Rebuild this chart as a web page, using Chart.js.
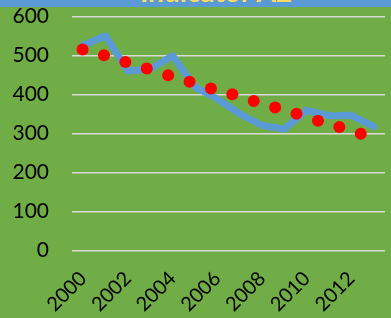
<!DOCTYPE html>
<html>
<head>
<meta charset="utf-8">
<script src="https://cdn.jsdelivr.net/npm/chart.js@4/dist/chart.umd.min.js"></script>
<style>
  html, body { margin: 0; padding: 0; background: #70AD47; overflow: hidden; }
  #wrap { position: relative; width: 391px; height: 318px; overflow: hidden; background: #70AD47; }
  #titlebar { position: absolute; left: 0; top: 0; width: 391px; height: 7px; background: #5B9BD5; overflow: hidden; z-index: 2; }
  #title { position: absolute; left: 0; top: -21px; width: 432px; text-align: center; font: bold 28px Lato, sans-serif; line-height: 24px; color: #FFD966; white-space: nowrap; }
  canvas { position: absolute; left: 0; top: 0; }
</style>
</head>
<body>
<div id="wrap">
  <div id="titlebar"><div id="title">Indicator A2</div></div>
  <canvas id="c" width="391" height="318"></canvas>
</div>
<script>
const years = ['2000','2001','2002','2003','2004','2005','2006','2007','2008','2009','2010','2011','2012','2013'];
const indicatorValues = [527, 551, 461, 466, 500, 420, 389, 351, 321, 312, 360, 346, 347, 318];
const trendValues = [516, 501, 484, 467, 450, 433, 416, 401, 384, 367, 351, 333, 317, 300];
const yTicks = [0, 100, 200, 300, 400, 500, 600];

const trendPoints = trendValues.map((v, i) => ({ x: i, y: v }));

new Chart(document.getElementById('c'), {
  type: 'line',
  data: {
    labels: years,
    datasets: [
      {
        label: 'Trend',
        type: 'scatter',
        data: trendPoints,
        xAxisID: 'x2',
        yAxisID: 'y',
        backgroundColor: '#FF0000',
        borderColor: '#FF0000',
        pointRadius: 6,
        pointBorderWidth: 0,
        showLine: false,
        order: 1
      },
      {
        label: 'Indicator A2',
        data: indicatorValues,
        xAxisID: 'x',
        yAxisID: 'y',
        borderColor: '#5B9BD5',
        backgroundColor: '#5B9BD5',
        borderWidth: 7,
        borderJoinStyle: 'round',
        borderCapStyle: 'round',
        pointRadius: 0,
        tension: 0,
        fill: false,
        order: 2
      }
    ]
  },
  options: {
    responsive: false,
    animation: false,
    devicePixelRatio: 1,
    layout: { padding: { top: 16.7, right: 2, left: 0, bottom: 0 } },
    plugins: { legend: { display: false }, tooltip: { enabled: false }, title: { display: false } },
    scales: {
      x: {
        type: 'category',
        offset: true,
        grid: { display: false, drawTicks: false },
        border: { display: false },
        ticks: {
          autoSkip: false,
          minRotation: 45,
          maxRotation: 45,
          padding: 16,
          color: '#000000',
          font: { family: 'Lato', size: 20 },
          callback: function (val, i) { return i % 2 === 0 ? years[i] : ''; }
        },
        afterFit: function (s) { s.height = 67.3; s.paddingLeft = 0; s.paddingRight = 0; }
      },
      x2: {
        type: 'linear',
        display: false,
        min: -0.494,
        max: 14.134
      },
      y: {
        min: 0,
        max: 600,
        afterBuildTicks: function (s) { s.ticks = yTicks.map(v => ({ value: v })); },
        grid: { color: '#D9D9D9', lineWidth: 1.6, drawTicks: false },
        border: { display: false },
        ticks: {
          padding: 23,
          color: '#000000',
          font: { family: 'Lato', size: 21 }
        },
        afterFit: function (s) { s.width = 72; s.paddingTop = 0; s.paddingBottom = 0; }
      }
    }
  }
});
</script>
</body>
</html>
